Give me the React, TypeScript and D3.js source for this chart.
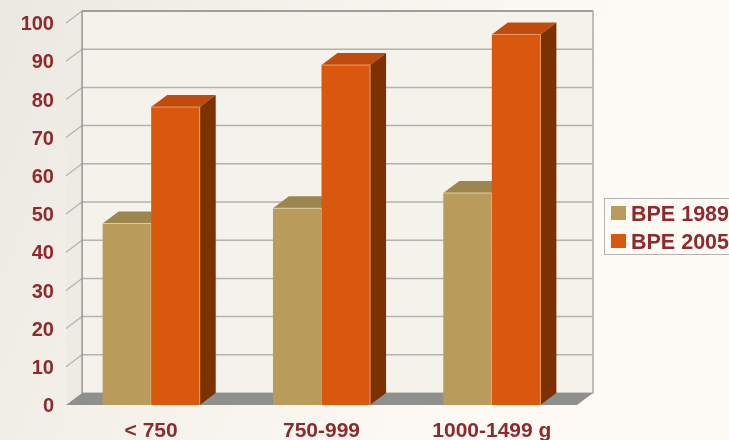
import React from "react";
import * as d3 from "d3";

const categories = ["< 750", "750-999", "1000-1499 g"];
const seriesNames = ["BPE 1989", "BPE 2005"];
const bpe1989 = [47.5, 51.5, 55.5];
const bpe2005 = [78, 89, 97];
const yTicks = [0, 10, 20, 30, 40, 50, 60, 70, 80, 90, 100];
const seriesValues = [bpe1989, bpe2005];
const faceColors = ["#b99c5c", "#d9590f"];
const topColors = ["#9c8550", "#bf4c08"];
const sideColors = ["#8a7440", "#7c3206"];
const edgeColors = ["#e0cf9f", "#eb9a66"];

const W = 729, H = 440;
const DX = 16, DY = -12;
const left = 66, right = 577;
const y = d3.scaleLinear().domain([0, 100]).range([405, 23]);
const x0 = d3.scaleBand<string>().domain(categories).range([left, right]).paddingInner(0.43).paddingOuter(0.215);
const x1 = d3.scaleBand<string>().domain(seriesNames).range([0, x0.bandwidth()]);
const poly = d3.line<[number, number]>();
const redText = "#8f2a2c";
const font = "'Liberation Sans', Arial, sans-serif";

export default function App() {
  const bars = categories.flatMap((c, i) =>
    seriesNames.map((s, k) => ({ c, s, k, v: seriesValues[k][i] }))
  );
  return (
    <svg width={W} height={H} viewBox={`0 0 ${W} ${H}`} style={{ position: "fixed", left: 0, top: 0, display: "block" }}>
      <defs>
        <linearGradient id="bg" x1="0" y1="0" x2="1" y2="0.25">
          <stop offset="0" stopColor="#ebe8e2" />
          <stop offset="0.3" stopColor="#f3f0ea" />
          <stop offset="0.8" stopColor="#fdfaf5" />
          <stop offset="1" stopColor="#fdfbf6" />
        </linearGradient>
        <filter id="soft" x="-2%" y="-2%" width="104%" height="104%">
          <feGaussianBlur stdDeviation="0.55" />
        </filter>
      </defs>
      <rect width={W} height={H} fill="url(#bg)" />
      <g filter="url(#soft)">
        <rect x={left + DX} y={y(100) + DY} width={right - left} height={y(0) - y(100)} fill="#f5f2ec" stroke="#a5a39e" strokeWidth={1} />
        <path d={poly([[left, y(0)], [left + DX, y(0) + DY], [left + DX, y(100) + DY], [left, y(100)]])! + "Z"} fill="#eeebe5" />
        <path d={poly([[left, y(0)], [right, y(0)], [right + DX, y(0) + DY], [left + DX, y(0) + DY]])! + "Z"} fill="#8f8f8e" />
        {yTicks.map((t) => (
          <g key={t}>
            {t > 0 && <line x1={left + DX} x2={right + DX} y1={y(t) + DY} y2={y(t) + DY} stroke={t === 100 ? "#a09e98" : "#b4b2ac"} strokeWidth={t === 100 ? 2 : 1.5} />}
            {t > 0 && <line x1={left} x2={left + DX} y1={y(t)} y2={y(t) + DY} stroke="#b4b2ac" strokeWidth={1.2} />}
          </g>
        ))}
        <line x1={left + DX} x2={left + DX} y1={y(100) + DY} y2={y(0) + DY} stroke="#8d8c88" strokeWidth={1.2} />
        <line x1={right + DX} x2={right + DX} y1={y(100) + DY} y2={y(0) + DY} stroke="#b4b2ac" strokeWidth={1.2} />
        {bars.map((b) => {
          const bx = x0(b.c)! + x1(b.s)!;
          const w = x1.bandwidth();
          const top = y(b.v), base = y(0);
          return (
            <g key={b.c + b.s}>
              <path d={poly([[bx, top], [bx + w, top], [bx + w + DX, top + DY], [bx + DX, top + DY]])! + "Z"} fill={topColors[b.k]} />
              <path d={poly([[bx + w, top], [bx + w + DX, top + DY], [bx + w + DX, base + DY], [bx + w, base]])! + "Z"} fill={sideColors[b.k]} />
              <rect x={bx} y={top} width={w} height={base - top} fill={faceColors[b.k]} />
              <path d={poly([[bx, top], [bx + w, top], [bx + w, base]])!} fill="none" stroke={edgeColors[b.k]} strokeWidth={1} />
            </g>
          );
        })}
        <rect x={604.5} y={198.5} width={130} height={56} fill="none" stroke="#b5b3ae" strokeWidth={1} />
        {seriesNames.map((s, k) => (
          <rect key={s} x={611} y={206 + k * 28} width={15} height={14} fill={faceColors[k]} />
        ))}
      </g>
      <g fontFamily={font} fontWeight="bold" fill={redText} style={{ filter: "blur(0.4px)" }}>
        {yTicks.map((t) => (
          <text key={t} x={54} y={y(t)} dy="0.36em" textAnchor="end" fontSize={20}>{t}</text>
        ))}
        {categories.map((c) => (
          <text key={c} x={x0(c)! + x0.bandwidth() / 2} y={429} dy="0.36em" textAnchor="middle" fontSize={21}>{c}</text>
        ))}
        {seriesNames.map((s, k) => (
          <text key={s} x={631} y={213 + k * 28} dy="0.36em" fontSize={21.5}>{s}</text>
        ))}
      </g>
    </svg>
  );
}
